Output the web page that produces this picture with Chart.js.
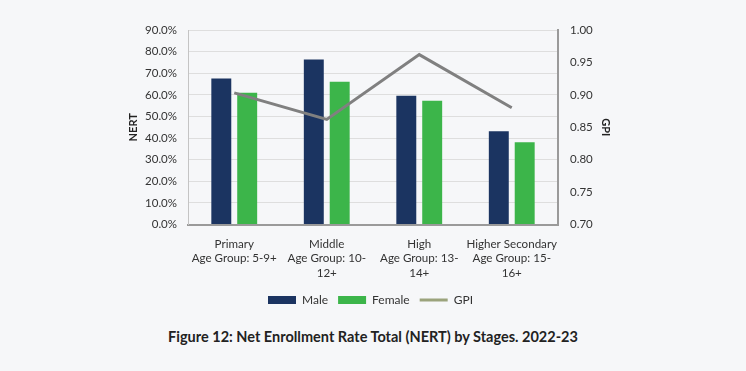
<!DOCTYPE html>
<html>
<head>
<meta charset="utf-8">
<script src="https://cdn.jsdelivr.net/npm/chart.js@4"></script>
<style>
  html, body { margin: 0; padding: 0; background: #f6f7f9; }
  #wrap { position: relative; width: 746px; height: 371px; }
  #caption {
    position: absolute; left: 0; top: 328px; width: 746px; text-align: center;
    font: bold 14.5px Lato, "Open Sans", sans-serif; color: #222;
  }
</style>
</head>
<body>
<div id="wrap">
  <canvas id="nertChart" width="746" height="316"></canvas>
  <div id="caption">Figure 12: Net Enrollment Rate Total (NERT) by Stages. 2022-23</div>
</div>
<script>
const stages = [
  ['Primary', 'Age Group: 5-9+'],
  ['Middle', 'Age Group: 10-', '12+'],
  ['High', 'Age Group: 13-', '14+'],
  ['Higher Secondary', 'Age Group: 15-', '16+']
];
const maleRate = [67.6, 76.4, 59.6, 43.2];
const femaleRate = [61.0, 66.1, 57.3, 38.1];
const gpi = [0.903, 0.862, 0.962, 0.880];

const fontFamily = 'Lato, "Open Sans", sans-serif';
Chart.defaults.font.family = fontFamily;
Chart.defaults.color = '#333';

const ctx = document.getElementById('nertChart').getContext('2d');
new Chart(ctx, {
  data: {
    labels: stages,
    datasets: [
      {
        type: 'line',
        label: 'GPI',
        data: gpi,
        yAxisID: 'y1',
        borderColor: '#808080',
        borderWidth: 3,
        pointRadius: 0,
        tension: 0,
        fill: false,
        order: 0
      },
      {
        type: 'bar',
        label: 'Male',
        data: maleRate,
        backgroundColor: '#1b3461',
        yAxisID: 'y',
        categoryPercentage: 0.56,
        barPercentage: 0.77,
        order: 1
      },
      {
        type: 'bar',
        label: 'Female',
        data: femaleRate,
        backgroundColor: '#3cb54a',
        yAxisID: 'y',
        categoryPercentage: 0.56,
        barPercentage: 0.77,
        order: 1
      }
    ]
  },
  options: {
    responsive: false,
    animation: false,
    layout: { padding: { left: 125, right: 130, top: 30, bottom: 0 } },
    plugins: {
      title: { display: false },
      tooltip: { enabled: false },
      legend: {
        position: 'bottom',
        labels: {
          usePointStyle: true,
          pointStyleWidth: 28,
          boxHeight: 8,
          padding: 10,
          color: '#333',
          font: { size: 12 },
          sort: (a, b) => (a.text === 'GPI') - (b.text === 'GPI'),
          generateLabels: chart => {
            const items = Chart.defaults.plugins.legend.labels.generateLabels(chart);
            return items.map(item => {
              if (item.text === 'GPI') {
                item.pointStyle = 'line';
                item.strokeStyle = '#9ba37c';
                item.lineWidth = 3;
              } else {
                item.pointStyle = 'rect';
                item.lineWidth = 0;
              }
              return item;
            });
          }
        }
      }
    },
    scales: {
      x: {
        grid: { display: false },
        border: { color: '#9a9a9a', width: 2 },
        ticks: { font: { size: 11.6, lineHeight: 1.25 }, color: '#333', maxRotation: 0, autoSkip: false, padding: 4 }
      },
      y: {
        position: 'left',
        min: 0,
        max: 90,
        afterFit: s => { s.width = 63; },
        ticks: { stepSize: 10, callback: v => v.toFixed(1) + '%', font: { size: 11.5 }, color: '#333', padding: 11 },
        grid: { color: '#dedede', drawTicks: false },
        border: { color: '#c4c4c4', width: 1 },
        title: { display: true, text: 'NERT', font: { size: 11, weight: 'bold' }, color: '#222', padding: 2 }
      },
      y1: {
        position: 'right',
        min: 0.7,
        max: 1.0,
        afterFit: s => { s.width = 58; },
        ticks: { stepSize: 0.05, callback: v => v.toFixed(2), font: { size: 11.5 }, color: '#333', padding: 12 },
        grid: { drawOnChartArea: false, drawTicks: false },
        border: { color: '#9a9a9a', width: 2 },
        title: { display: true, text: 'GPI', font: { size: 11, weight: 'bold' }, color: '#222', padding: 4 }
      }
    }
  }
});
</script>
</body>
</html>
